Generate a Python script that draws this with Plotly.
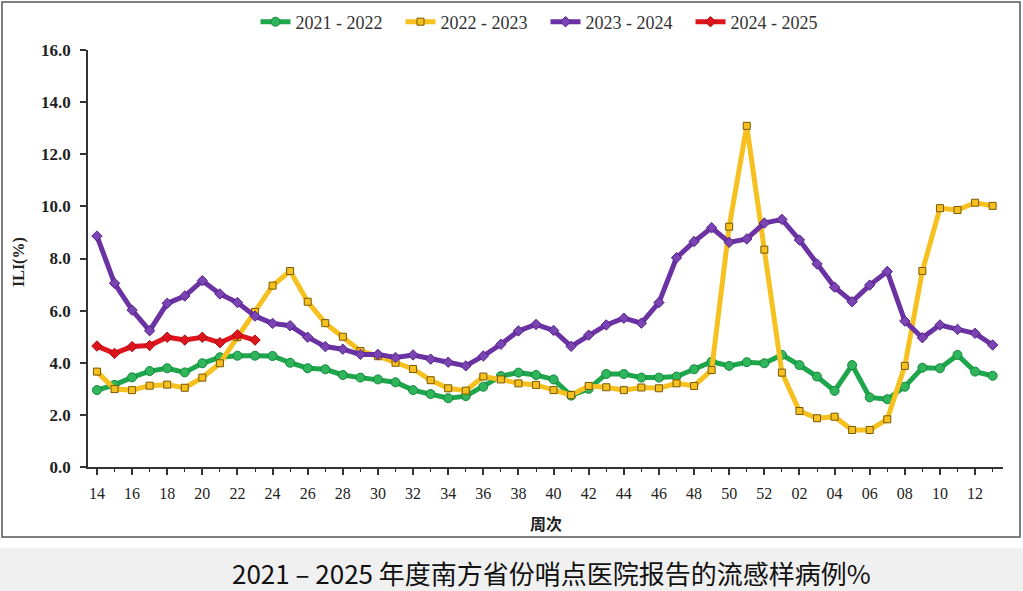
import plotly.graph_objects as go

weeks = ["14","15","16","17","18","19","20","21","22","23","24","25","26","27","28","29",
         "30","31","32","33","34","35","36","37","38","39","40","41","42","43","44","45",
         "46","47","48","49","50","51","52","01","02","03","04","05","06","07","08","09",
         "10","11","12","13"]
tick_labels = ["14","16","18","20","22","24","26","28","30","32","34","36","38","40",
               "42","44","46","48","50","52","02","04","06","08","10","12"]

s2122 = [2.95, 3.15, 3.44, 3.68, 3.79, 3.63, 3.98, 4.21, 4.27, 4.27, 4.26, 4.00, 3.79,
         3.75, 3.53, 3.43, 3.36, 3.25, 2.95, 2.80, 2.64, 2.72, 3.08, 3.49, 3.62, 3.53,
         3.36, 2.74, 3.00, 3.57, 3.57, 3.43, 3.43, 3.47, 3.75, 4.04, 3.88, 4.02, 3.98,
         4.30, 3.91, 3.47, 2.92, 3.91, 2.67, 2.60, 3.08, 3.81, 3.79, 4.30, 3.66, 3.50]
s2223 = [3.66, 2.99, 2.95, 3.12, 3.16, 3.04, 3.43, 3.98, 4.98, 5.95, 6.96, 7.52, 6.34,
         5.52, 5.00, 4.45, 4.25, 4.00, 3.76, 3.33, 3.02, 2.93, 3.47, 3.36, 3.21, 3.15,
         2.95, 2.76, 3.11, 3.06, 2.95, 3.05, 3.02, 3.21, 3.11, 3.72, 9.22, 13.09, 8.34,
         3.62, 2.15, 1.87, 1.93, 1.42, 1.42, 1.83, 3.88, 7.52, 9.93, 9.86, 10.14, 10.02]
s2324 = [8.86, 7.05, 6.02, 5.23, 6.28, 6.56, 7.15, 6.64, 6.31, 5.79, 5.51, 5.42, 4.98,
         4.62, 4.52, 4.32, 4.32, 4.20, 4.30, 4.14, 4.02, 3.88, 4.26, 4.71, 5.22, 5.47,
         5.24, 4.63, 5.06, 5.45, 5.71, 5.52, 6.31, 8.03, 8.65, 9.18, 8.62, 8.75, 9.36,
         9.50, 8.71, 7.79, 6.90, 6.34, 6.98, 7.50, 5.60, 4.96, 5.45, 5.28, 5.13, 4.68]
s2425 = [4.64, 4.36, 4.62, 4.66, 4.98, 4.87, 4.98, 4.77, 5.07, 4.87]

series = [
    ("2021 - 2022", s2122, "#1ea64c", dict(symbol="circle", size=9, color="#2fb55c",
                                          line=dict(color="#15873b", width=1))),
    ("2022 - 2023", s2223, "#f6c11e", dict(symbol="square", size=7, color="#f6c11e",
                                          line=dict(color="#7a5800", width=1))),
    ("2023 - 2024", s2324, "#6a32a3", dict(symbol="diamond", size=8, color="#7a44b3",
                                          line=dict(color="#55238a", width=1))),
    ("2024 - 2025", s2425, "#e0141c", dict(symbol="diamond", size=8, color="#e0141c",
                                          line=dict(color="#a00d10", width=1))),
]

SERIF = "Liberation Serif, Times New Roman, DejaVu Serif, serif"

W, H = 1023, 591
L, R, T, B = 88, 20, 50, 124
pw, ph = W - L - R, H - T - B

def px(p):
    return (p - L) / pw

def py(p):
    return (H - B - p) / ph

fig = go.Figure()
idx = list(range(len(weeks)))
for name, vals, col, mk in series:
    fig.add_trace(go.Scatter(
        x=idx[:len(vals)], y=vals, name=name, mode="lines+markers",
        line=dict(color=col, width=5), marker=mk,
    ))

tickvals = [weeks.index(t) for t in tick_labels]

fig.update_layout(
    width=W, height=H,
    margin=dict(l=L, r=R, t=T, b=B, autoexpand=False),
    paper_bgcolor="white", plot_bgcolor="white",
    font=dict(family=SERIF, color="#222"),
    showlegend=True,
    legend=dict(orientation="h", x=0.5, xanchor="center", y=py(22), yanchor="middle",
                font=dict(family=SERIF, size=18, color="#333"),
                itemwidth=30, entrywidth=100, bgcolor="rgba(0,0,0,0)"),
    xaxis=dict(range=[-0.51, 51.59], tickmode="array", tickvals=tickvals,
               ticktext=tick_labels, showgrid=False, zeroline=False,
               showline=True, linecolor="#333", linewidth=1.5,
               ticks="outside", ticklen=6, tickwidth=1.5, tickcolor="#333",
               ticklabelstandoff=5,
               minor=dict(dtick=1, tick0=0, ticks="outside", ticklen=3,
                          tickwidth=1, tickcolor="#333"),
               tickfont=dict(family=SERIF, size=16, color="#222")),
    yaxis=dict(range=[0, 16], dtick=2, tickformat=".1f", showgrid=False,
               zeroline=False, showline=True, linecolor="#333", linewidth=1.5,
               ticks="outside", ticklen=6, tickwidth=1.5, tickcolor="#333",
               ticklabelstandoff=6,
               tickfont=dict(family=SERIF, size=17, color="#222", weight="bold")),
    annotations=[
        dict(text="<b>ILI(%)</b>", xref="paper", yref="paper", x=px(19), y=py(262),
             textangle=-90, showarrow=False, xanchor="center", yanchor="middle",
             font=dict(family=SERIF, size=16, color="#222")),
        dict(text="<b>周次</b>", xref="paper", yref="paper", x=px(546), y=py(523),
             showarrow=False, xanchor="center", yanchor="middle",
             font=dict(family="Noto Sans CJK SC", size=16, color="#222")),
        dict(text="2021 – 2025 年度南方省份哨点医院报告的流感样病例%",
             xref="paper", yref="paper", x=px(551), y=py(572),
             showarrow=False, xanchor="center", yanchor="middle",
             font=dict(family="Noto Sans CJK SC", size=26, color="#111")),
    ],
    shapes=[
        dict(type="rect", xref="paper", yref="paper", x0=px(0), x1=px(W),
             y0=py(548), y1=py(H), fillcolor="#f0f0f0", line=dict(width=0),
             layer="below"),
        dict(type="rect", xref="paper", yref="paper", x0=px(2), x1=px(1020),
             y0=py(537), y1=py(2), fillcolor="rgba(0,0,0,0)",
             line=dict(color="#555", width=1.5), layer="below"),
    ],
)

fig.write_html("out.html")
